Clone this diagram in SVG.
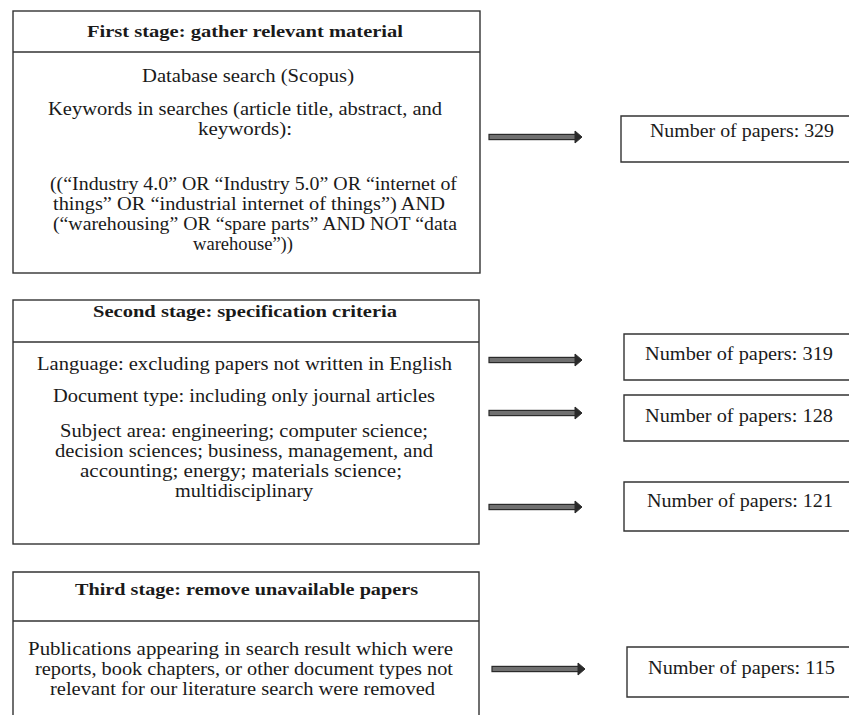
<svg xmlns="http://www.w3.org/2000/svg" width="849" height="715" viewBox="0 0 849 715">
<defs>
<style>
.box{fill:#fff;stroke:#333;stroke-width:1.4}
.ln{fill:none;stroke:#333;stroke-width:1.4}
.t{font-family:"Liberation Serif","Times New Roman",serif;font-size:18px;fill:#1a1a1a}
.h{font-family:"Liberation Serif","Times New Roman",serif;font-size:16.5px;font-weight:bold;fill:#1a1a1a}
.shaft{fill:#707070;stroke:#2a2a2a;stroke-width:1.2}
.head{fill:#2a2a2a;stroke:#2a2a2a;stroke-width:1}
</style>
<g id="arrowShape">
<rect class="shaft" x="0" y="-2.6" width="87" height="5.2"/>
<polygon class="head" points="86,-6 93,0 86,6"/>
</g>
</defs>
<rect width="849" height="715" fill="#fff"/>

<g id="stage1">
<rect class="box" x="13" y="11" width="467" height="262"/>
<line class="ln" x1="13" y1="52" x2="480" y2="52"/>
<text class="h" x="87" y="37" textLength="316" lengthAdjust="spacingAndGlyphs">First stage: gather relevant material</text>
<text class="t" x="142" y="82" textLength="212" lengthAdjust="spacingAndGlyphs">Database search (Scopus)</text>
<text class="t" x="48" y="115" textLength="394" lengthAdjust="spacingAndGlyphs">Keywords in searches (article title, abstract, and</text>
<text class="t" x="198" y="135" textLength="94" lengthAdjust="spacingAndGlyphs">keywords):</text>
<text class="t" x="50" y="190" textLength="407" lengthAdjust="spacingAndGlyphs">((“Industry 4.0” OR “Industry 5.0” OR “internet of</text>
<text class="t" x="53" y="210" textLength="392" lengthAdjust="spacingAndGlyphs">things” OR “industrial internet of things”) AND</text>
<text class="t" x="53" y="230" textLength="404" lengthAdjust="spacingAndGlyphs">(“warehousing” OR “spare parts” AND NOT “data</text>
<text class="t" x="193" y="250" textLength="100" lengthAdjust="spacingAndGlyphs">warehouse”))</text>
</g>

<g id="stage2">
<rect class="box" x="13" y="300" width="466" height="244"/>
<line class="ln" x1="13" y1="342" x2="479" y2="342"/>
<text class="h" x="93" y="317" textLength="304" lengthAdjust="spacingAndGlyphs">Second stage: specification criteria</text>
<text class="t" x="37" y="370" textLength="415" lengthAdjust="spacingAndGlyphs">Language: excluding papers not written in English</text>
<text class="t" x="53" y="402" textLength="382" lengthAdjust="spacingAndGlyphs">Document type: including only journal articles</text>
<text class="t" x="60" y="437" textLength="368" lengthAdjust="spacingAndGlyphs">Subject area: engineering; computer science;</text>
<text class="t" x="55" y="457" textLength="378" lengthAdjust="spacingAndGlyphs">decision sciences; business, management, and</text>
<text class="t" x="80" y="477" textLength="322" lengthAdjust="spacingAndGlyphs">accounting; energy; materials science;</text>
<text class="t" x="175" y="497" textLength="138" lengthAdjust="spacingAndGlyphs">multidisciplinary</text>
</g>

<g id="stage3">
<path class="ln" d="M13 716 V572 H479 V716"/>
<line class="ln" x1="13" y1="621" x2="479" y2="621"/>
<text class="h" x="75" y="595" textLength="343" lengthAdjust="spacingAndGlyphs">Third stage: remove unavailable papers</text>
<text class="t" x="28" y="655" textLength="425" lengthAdjust="spacingAndGlyphs">Publications appearing in search result which were</text>
<text class="t" x="35" y="675" textLength="418" lengthAdjust="spacingAndGlyphs">reports, book chapters, or other document types not</text>
<text class="t" x="50" y="695" textLength="385" lengthAdjust="spacingAndGlyphs">relevant for our literature search were removed</text>
</g>

<g id="n329">
<path class="box" d="M852 116 H621 V162 H852"/>
<text class="t" x="650" y="137" textLength="184" lengthAdjust="spacingAndGlyphs">Number of papers: 329</text>
</g>
<g id="n319">
<path class="box" d="M852 334 H624 V380 H852"/>
<text class="t" x="645" y="360" textLength="188" lengthAdjust="spacingAndGlyphs">Number of papers: 319</text>
</g>
<g id="n128">
<path class="box" d="M852 395 H624 V441 H852"/>
<text class="t" x="645" y="422" textLength="188" lengthAdjust="spacingAndGlyphs">Number of papers: 128</text>
</g>
<g id="n121">
<path class="box" d="M852 482 H624 V531 H852"/>
<text class="t" x="647" y="507" textLength="186" lengthAdjust="spacingAndGlyphs">Number of papers: 121</text>
</g>
<g id="n115">
<path class="box" d="M852 647 H627 V697 H852"/>
<text class="t" x="648" y="674" textLength="187" lengthAdjust="spacingAndGlyphs">Number of papers: 115</text>
</g>

<g id="connectors">
<use href="#arrowShape" x="489" y="137"/>
<use href="#arrowShape" x="489" y="360"/>
<use href="#arrowShape" x="489" y="413"/>
<use href="#arrowShape" x="489" y="507"/>
<use href="#arrowShape" x="492" y="669"/>
</g>
</svg>
